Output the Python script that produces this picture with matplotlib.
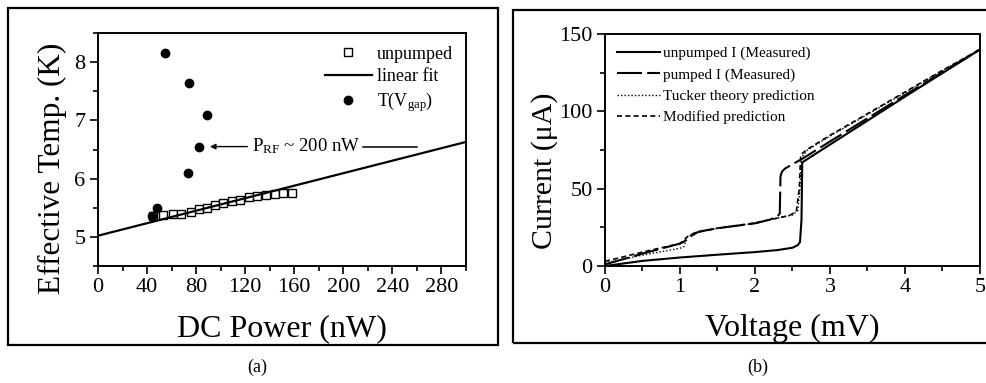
import matplotlib
matplotlib.use('Agg')
import matplotlib.pyplot as plt
from matplotlib.patches import Rectangle
from matplotlib.ticker import MultipleLocator

plt.rcParams['font.family'] = ['Liberation Serif', 'DejaVu Serif']
plt.rcParams['mathtext.fontset'] = 'custom'
plt.rcParams['mathtext.rm'] = 'Liberation Serif'
plt.rcParams['mathtext.it'] = 'Liberation Serif'

# panel (a): effective temperature vs DC power
unpumped_p = [45, 53, 61, 68, 76, 82, 89, 95, 102, 109, 116, 123, 130, 137, 144, 151, 158]
unpumped_t = [5.36, 5.37, 5.39, 5.39, 5.43, 5.47, 5.50, 5.55, 5.59, 5.61, 5.64, 5.68, 5.70, 5.72, 5.74, 5.75, 5.75]
fit_p = [0, 300]
fit_t = [5.02, 6.63]
tgap_p = [44, 48, 55, 73, 74, 82, 89]
tgap_t = [5.36, 5.50, 8.15, 6.10, 7.64, 6.54, 7.10]

# panel (b): I-V curves
unp_v = [0, 0.5, 1.0, 1.5, 2.0, 2.3, 2.5, 2.57, 2.60, 2.62, 2.63, 3.0, 4.0, 5.0]
unp_i = [0, 3.3, 5.5, 7.3, 9.0, 10.3, 11.8, 13.5, 15.5, 30, 67, 78.5, 109.5, 140]
pum_v = [0, 0.5, 1.0, 1.08, 1.15, 1.25, 1.5, 2.0, 2.2, 2.3, 2.33, 2.34, 2.36, 2.40, 2.47, 2.62, 3.0, 4.0, 5.0]
pum_i = [1, 8, 14.5, 16.5, 19.5, 22.2, 24.4, 27.6, 30, 32, 34, 58, 61, 63, 65, 69, 80.5, 110.5, 140]
tuc_v = [0, 0.5, 1.0, 1.05, 1.1, 1.2, 1.5, 2.0, 2.3, 2.5, 2.57, 2.60, 2.62, 2.7, 3.0, 3.5, 4.0, 4.5, 5.0]
tuc_i = [2, 7, 11.5, 12.5, 19, 21.5, 24.3, 27.6, 31, 33, 36, 50, 70, 75, 84, 98, 112, 126.5, 140]
mod_v = [0, 0.5, 1.0, 1.1, 1.2, 1.5, 2.0, 2.3, 2.45, 2.55, 2.59, 2.61, 2.7, 3.0, 3.5, 4.0, 4.5, 5.0]
mod_i = [3, 9, 14.5, 19, 21.5, 24.5, 27.8, 31, 32.5, 35, 50, 72, 75.5, 84.5, 98.5, 112.5, 126.5, 140]

fig = plt.figure(figsize=(9.87, 3.83), dpi=100)

# outer frames around each panel
fig.add_artist(Rectangle((8 / 987, 1 - 345 / 383), 490 / 987, 337 / 383, fill=False,
                         lw=1.6, color='black', transform=fig.transFigure))
fig.add_artist(Rectangle((513 / 987, 1 - 343 / 383), 480 / 987, 333 / 383, fill=False,
                         lw=1.6, color='black', transform=fig.transFigure))


def style_axes(ax):
    for s in ax.spines.values():
        s.set_linewidth(1.4)
    ax.tick_params(which='both', direction='out', top=False, right=False, width=1.2)
    ax.tick_params(which='major', length=6, labelsize=16, pad=3)
    ax.tick_params(which='minor', length=3.5)


ax1 = fig.add_axes([98 / 987, 1 - 266 / 383, 368 / 987, 233 / 383])
ax1.plot(unpumped_p, unpumped_t, 's', mfc='white', mec='black', ms=6, mew=1.0, label='unpumped')
ax1.plot(fit_p, fit_t, '-', color='black', lw=1.6, label='linear fit')
ax1.plot(tgap_p, tgap_t, 'o', color='black', ms=6, label='T(V$_{gap}$)')
ax1.annotate('', xy=(89, 6.55), xytext=(124, 6.55),
             arrowprops=dict(arrowstyle='-|>', color='black', lw=1.0, mutation_scale=8))
ax1.text(170, 6.55, 'P$_{RF}$ ~ 200 nW', ha='center', va='center', fontsize=13.5)
ax1.plot([216, 260], [6.55, 6.55], '-', color='black', lw=1.1)
ax1.set_xlim(0, 300)
ax1.set_ylim(4.5, 8.5)
ax1.xaxis.set_major_locator(MultipleLocator(40))
ax1.xaxis.set_minor_locator(MultipleLocator(20))
ax1.yaxis.set_major_locator(MultipleLocator(1))
ax1.yaxis.set_minor_locator(MultipleLocator(0.5))
style_axes(ax1)
ax1.set_xlabel('DC Power (nW)', fontsize=23, labelpad=12)
ax1.set_ylabel('Effective Temp. (K)', fontsize=22.5)
ax1.yaxis.set_label_coords(-0.085, 0.42)
ax1.legend(loc='upper right', frameon=False, fontsize=13, handlelength=2.6,
           handletextpad=0.3, borderaxespad=0.3, labelspacing=0.3)

ax2 = fig.add_axes([605 / 987, 1 - 266 / 383, 375 / 987, 232 / 383])
ax2.plot(unp_v, unp_i, '-', color='black', lw=1.5, label='unpumped I (Measured)')
ax2.plot(pum_v, pum_i, color='black', lw=1.5, linestyle=(0, (12, 2.5)), label='pumped I (Measured)')
ax2.plot(tuc_v, tuc_i, color='black', lw=1.0, linestyle=(0, (1, 1.5)), label='Tucker theory prediction')
ax2.plot(mod_v, mod_i, color='black', lw=1.2, linestyle=(0, (3, 2)), label='Modified prediction')
ax2.set_xlim(0, 5)
ax2.set_ylim(0, 150)
ax2.xaxis.set_major_locator(MultipleLocator(1))
ax2.xaxis.set_minor_locator(MultipleLocator(0.5))
ax2.yaxis.set_major_locator(MultipleLocator(50))
ax2.yaxis.set_minor_locator(MultipleLocator(25))
style_axes(ax2)
ax2.set_xlabel('Voltage (mV)', fontsize=23, labelpad=12)
ax2.set_ylabel('Current (μA)', fontsize=21.5)
ax2.yaxis.set_label_coords(-0.125, 0.41)
ax2.legend(loc='upper left', frameon=False, fontsize=11, handlelength=2.8,
           handletextpad=0.2, borderaxespad=0.4, labelspacing=0.5)

fig.text(257 / 987, 1 - 367 / 383, '(a)', ha='center', va='center', fontsize=13)
fig.text(758 / 987, 1 - 367 / 383, '(b)', ha='center', va='center', fontsize=13)

fig.savefig('out.png', dpi=100)
